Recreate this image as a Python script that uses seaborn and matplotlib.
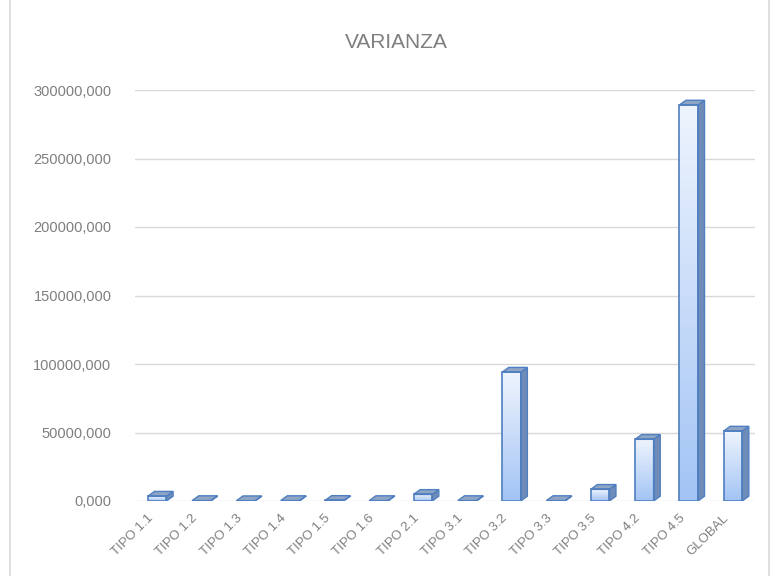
import numpy as np
import pandas as pd
import seaborn as sns
import matplotlib.pyplot as plt
import matplotlib.transforms as mtransforms
from matplotlib.patches import Polygon, Rectangle
from matplotlib.ticker import FuncFormatter

categorias = ['TIPO 1.1', 'TIPO 1.2', 'TIPO 1.3', 'TIPO 1.4', 'TIPO 1.5', 'TIPO 1.6', 'TIPO 2.1',
              'TIPO 3.1', 'TIPO 3.2', 'TIPO 3.3', 'TIPO 3.5', 'TIPO 4.2', 'TIPO 4.5', 'GLOBAL']
varianza = [3500, 300, 200, 300, 400, 300, 4800,
            300, 94000, 300, 8500, 45000, 289000, 51000]
yticks = [0, 50000, 100000, 150000, 200000, 250000, 300000]

df = pd.DataFrame({'tipo': categorias, 'varianza': varianza})

sns.set_style('white')
plt.rcParams['font.family'] = ['Liberation Sans', 'DejaVu Sans']

fig = plt.figure(figsize=(7.71, 5.76), dpi=100)
ax = fig.add_axes([135 / 771, 1 - 501 / 576, 620 / 771, 411 / 576])

sns.barplot(data=df, x='tipo', y='varianza', ax=ax, width=0.42,
            color='#c9dcf8', edgecolor='#4f7fc0', linewidth=1.2, saturation=1, zorder=3)

# gradiente vertical + cara lateral y superior (efecto 3D)
grad = np.linspace(0, 1, 100).reshape(-1, 1)
cmap = sns.blend_palette(['#a3c4f5', '#eef4fd'], as_cmap=True)
depth_x = 0.15
depth_y = 3500
for p in list(ax.patches):
    x0 = p.get_x()
    w = p.get_width()
    h = p.get_height()
    im = ax.imshow(grad, cmap=cmap, aspect='auto', origin='lower',
                   extent=[x0, x0 + w, 0, h], zorder=3)
    im.set_clip_path(p)
    side = Polygon([[x0 + w, 0], [x0 + w + depth_x, depth_y], [x0 + w + depth_x, h + depth_y], [x0 + w, h]],
                   closed=True, facecolor='#6f8cb8', edgecolor='#4f7fc0', linewidth=1.0, zorder=4)
    top = Polygon([[x0, h], [x0 + depth_x, h + depth_y], [x0 + w + depth_x, h + depth_y], [x0 + w, h]],
                  closed=True, facecolor='#8fa5c6', edgecolor='#4f7fc0', linewidth=1.0, zorder=4)
    ax.add_patch(side)
    ax.add_patch(top)
    p.set_facecolor('none')
    p.set_zorder(5)

ax.set_xlim(-0.5, len(categorias) - 0.5)
ax.set_ylim(0, 300000)
ax.set_yticks(yticks)
ax.yaxis.set_major_formatter(FuncFormatter(lambda v, pos: '{:d},000'.format(int(round(v)))))
ax.yaxis.grid(True, color='#d9d9d9', linewidth=1.0, zorder=0)
ax.set_axisbelow(True)
for s in ax.spines.values():
    s.set_visible(False)
ax.tick_params(axis='y', colors='#7f7f7f', labelsize=10.5, length=0, pad=17)
ax.tick_params(axis='x', colors='#7f7f7f', labelsize=9.5, length=0, pad=8)
offset = mtransforms.ScaledTranslation(-10 / 100, 0, fig.dpi_scale_trans)
for lbl in ax.get_xticklabels():
    lbl.set_rotation(45)
    lbl.set_ha('right')
    lbl.set_rotation_mode('anchor')
    lbl.set_transform(lbl.get_transform() + offset)
ax.set_xlabel('')
ax.set_ylabel('')

fig.text(396 / 771, 1 - 42 / 576, 'VARIANZA', ha='center', va='center', fontsize=15, color='#7f7f7f')

# marco exterior del grafico
fig.patches.append(Rectangle((10 / 771, -0.01), 759 / 771, 1.02, transform=fig.transFigure,
                             fill=False, edgecolor='#d9d9d9', linewidth=1.2))

fig.savefig('out.png', dpi=100)
